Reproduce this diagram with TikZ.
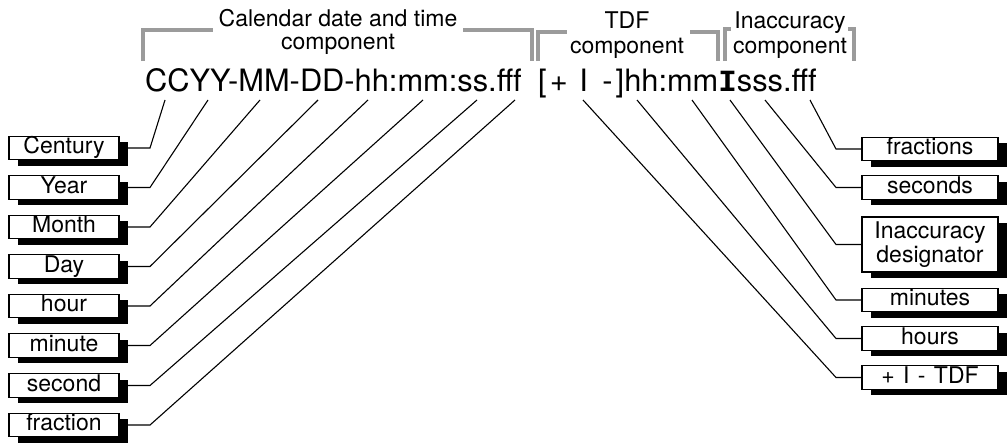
\documentclass[tikz,border=0pt]{standalone}
\usepackage{fontspec}
\setmainfont{TeX Gyre Heros}
\newfontfamily\slabfont{Liberation Mono}
\usetikzlibrary{shadows}
\definecolor{brgray}{RGB}{155,155,155}
\begin{document}
\begin{tikzpicture}[x=1pt,y=-1pt,
  lbl/.style={font=\fontsize{23}{24}\selectfont, inner sep=0pt, anchor=base},
  bigtext/.style={font=\fontsize{30.8}{36}\selectfont, inner sep=0pt, anchor=base west},
  bracket/.style={draw=brgray, line width=3.6pt, line join=miter},
  conn/.style={draw=black, line width=1.1pt},
  boxbase/.style={draw=black, line width=1.1pt, fill=white, font=\fontsize{23}{24}\selectfont,
     inner xsep=2pt, inner ysep=1.2pt,
     drop shadow={shadow xshift=8.5pt, shadow yshift=-6pt, fill=black, opacity=1}},
  lbox/.style={boxbase, minimum width=110pt, text height=16.5pt, text depth=4.8pt},
  rbox/.style={boxbase, minimum width=136pt, text height=16.5pt, text depth=4.8pt},
  rbox2/.style={boxbase, minimum width=136pt, minimum height=55pt, align=center}
]
\useasboundingbox (0,0) rectangle (1008,444);

% top component brackets
\draw[bracket] (143,61) -- (143,30) -- (213,30);
\draw[bracket] (463,30) -- (532,30) -- (532,61);
\node[lbl] (cal1) at (338,27) {Calendar date and time};
\node[lbl] (cal2) at (338,49) {component};

\draw[bracket] (538,61) -- (538,32) -- (567,32);
\draw[bracket] (690,32) -- (718,32) -- (718,61);
\node[lbl] (tdf1) at (627,29) {TDF};
\node[lbl] (tdf2) at (627,53) {component};

\draw[bracket] (725,61) -- (725,29) -- (731,29);
\draw[bracket] (848,29) -- (854,29) -- (854,61);
\node[lbl] (ina1) at (790,29) {Inaccuracy};
\node[lbl] (ina2) at (790,53) {component};

% main format string
\node[bigtext] (dt) at (145,91) {CCYY-MM-DD-hh:mm:ss.fff};
\node[bigtext] (tz) at (538,91) {[\hspace{3pt}+\hspace{3pt} I\hspace{6pt} -\hspace{3pt}]hh:mm{\slabfont\bfseries I}sss.fff};

% anchor points under the characters
\coordinate (pCC) at (165,100);
\coordinate (pYY) at (208,100);
\coordinate (pMM) at (260,100);
\coordinate (pDD) at (318,100);
\coordinate (phh) at (368,100);
\coordinate (pmm) at (423,100);
\coordinate (pss) at (477,100);
\coordinate (pff) at (515,100);
\coordinate (qsg) at (583,100);
\coordinate (qhh) at (637,100);
\coordinate (qmm) at (692,100);
\coordinate (qI)  at (730,100);
\coordinate (qss) at (765,100);
\coordinate (qff) at (810,100);

% left boxes
\node[lbox] (bCen) at (64,148)   {Century};
\node[lbox] (bYea) at (64,187.5) {Year};
\node[lbox] (bMon) at (64,227)   {Month};
\node[lbox] (bDay) at (64,266.5) {Day};
\node[lbox] (bHou) at (64,306)   {hour};
\node[lbox] (bMin) at (64,345.5) {minute};
\node[lbox] (bSec) at (64,385.5) {second};
\node[lbox] (bFra) at (64,425)   {fraction};

% right boxes
\node[rbox]  (rFra) at (930,149)   {fractions};
\node[rbox]  (rSec) at (930,187.5) {seconds};
\node[rbox2] (rIna) at (930,244.5) {Inaccuracy\\designator};
\node[rbox]  (rMin) at (930,300)   {minutes};
\node[rbox]  (rHou) at (930,338.5) {hours};
\node[rbox]  (rTdf) at (930,377.5) {+\hspace{2pt} I\hspace{2pt} -\hspace{2pt} TDF};

% knees
\coordinate (kCen) at (150,148);
\coordinate (kYea) at (150,187.5);
\coordinate (kMon) at (150,227);
\coordinate (kDay) at (150,266.5);
\coordinate (kHou) at (150,306);
\coordinate (kMin) at (150,345.5);
\coordinate (kSec) at (150,385.5);
\coordinate (kFra) at (150,425);
\coordinate (jFra) at (836,149);
\coordinate (jSec) at (836,187.5);
\coordinate (jIna) at (836,244.5);
\coordinate (jMin) at (836,300);
\coordinate (jHou) at (836,338.5);
\coordinate (jTdf) at (836,377.5);

% connectors
\draw[conn] (pCC) -- (kCen) -- (bCen.east);
\draw[conn] (pYY) -- (kYea) -- (bYea.east);
\draw[conn] (pMM) -- (kMon) -- (bMon.east);
\draw[conn] (pDD) -- (kDay) -- (bDay.east);
\draw[conn] (phh) -- (kHou) -- (bHou.east);
\draw[conn] (pmm) -- (kMin) -- (bMin.east);
\draw[conn] (pss) -- (kSec) -- (bSec.east);
\draw[conn] (pff) -- (kFra) -- (bFra.east);

\draw[conn] (qff) -- (jFra) -- (rFra.west);
\draw[conn] (qss) -- (jSec) -- (rSec.west);
\draw[conn] (qI)  -- (jIna) -- (rIna.west);
\draw[conn] (qmm) -- (jMin) -- (rMin.west);
\draw[conn] (qhh) -- (jHou) -- (rHou.west);
\draw[conn] (qsg) -- (jTdf) -- (rTdf.west);
\end{tikzpicture}
\end{document}
